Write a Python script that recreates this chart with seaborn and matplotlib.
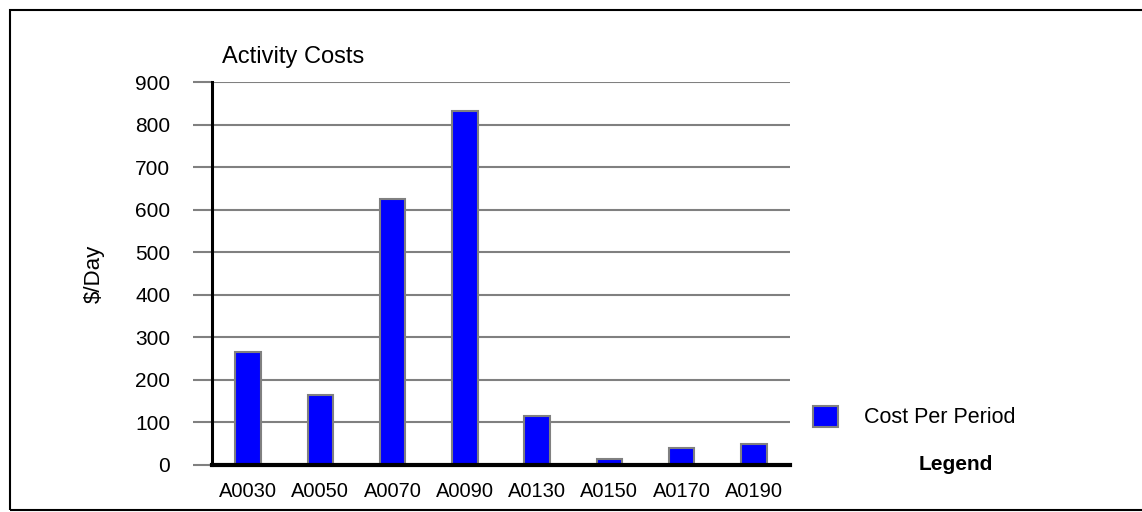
import matplotlib
matplotlib.use("Agg")
import matplotlib.pyplot as plt
import seaborn as sns
import pandas as pd
from matplotlib.patches import Patch, Rectangle

# data
activities = ["A0030", "A0050", "A0070", "A0090", "A0130", "A0150", "A0170", "A0190"]
cost_per_period = [265, 165, 625, 833, 115, 15, 40, 50]
y_ticks = [0, 100, 200, 300, 400, 500, 600, 700, 800, 900]

df = pd.DataFrame({"activity": activities, "cost": cost_per_period})

sns.set_theme(style="white", rc={"text.color": "black", "axes.labelcolor": "black",
                                 "xtick.color": "black", "ytick.color": "black"})
plt.rcParams["font.family"] = ["Liberation Sans", "DejaVu Sans"]

W, H = 1142, 512
fig = plt.figure(figsize=(W / 100, H / 100), dpi=100)
# axes box in pixels: x 212..790, y 82..465
ax = fig.add_axes([212 / W, 1 - 465 / H, (790 - 212) / W, (465 - 82) / H])

sns.barplot(data=df, x="activity", y="cost", ax=ax, color="#0000FF", saturation=1,
            width=0.35, edgecolor="#808080", linewidth=1.5)

ax.set_ylim(0, 900)
ax.set_xlim(-0.5, len(activities) - 0.5)
ax.set_yticks(y_ticks)
ax.set_axisbelow(True)
ax.yaxis.grid(True, color="#808080", linewidth=1.5)
ax.xaxis.grid(False)

for s in ["top", "right"]:
    ax.spines[s].set_visible(False)
ax.spines["left"].set_color("black")
ax.spines["left"].set_linewidth(2.2)
ax.spines["bottom"].set_color("black")
ax.spines["bottom"].set_linewidth(3)

ax.tick_params(axis="y", left=True, length=14, width=1.5, color="#808080",
               labelcolor="black", pad=16, labelsize=15)
ax.tick_params(axis="x", bottom=False, length=0, pad=12, labelcolor="black", labelsize=14.5)

ax.set_xlabel("")
ax.set_ylabel("$/Day", fontsize=16)
ax.yaxis.set_label_coords((105 - 212) / 578, 0.5)

ax.text(10 / 578, 1 + (82 - 57) / 383, "Activity Costs", transform=ax.transAxes,
        ha="left", va="center", fontsize=17)

# legend at the right
fig.legend(handles=[Patch(facecolor="#0000FF", edgecolor="#808080", linewidth=1.5)],
           labels=["Cost Per Period"], loc="center left",
           bbox_to_anchor=(813 / W, 1 - 417 / H), frameon=False, fontsize=15.5,
           handlelength=1.15, handleheight=1.15, handletextpad=1.2,
           borderpad=0, borderaxespad=0)
fig.text(956 / W, 1 - 465 / H, "Legend", ha="center", va="center",
         fontsize=15, fontweight="bold")

# outer frame
fig.patches.append(Rectangle((10 / W, 1 - 510 / H), 1.1, (510 - 10) / H,
                             transform=fig.transFigure, fill=False,
                             edgecolor="black", linewidth=1.5))

fig.savefig("out.png", dpi=100)
